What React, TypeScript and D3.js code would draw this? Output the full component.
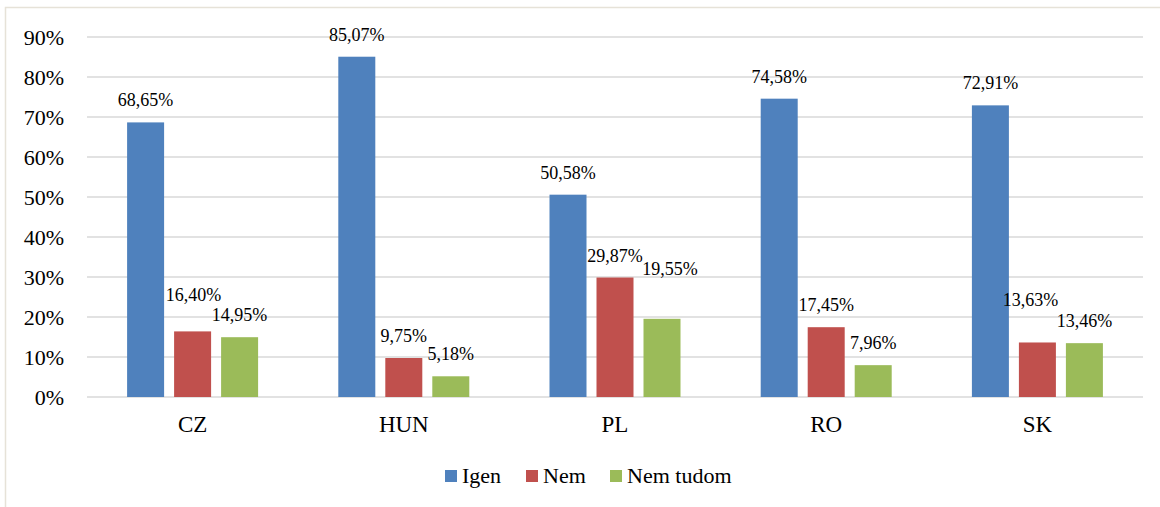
import React from "react";
import * as d3 from "d3";

const categories = ["CZ", "HUN", "PL", "RO", "SK"];
const seriesNames = ["Igen", "Nem", "Nem tudom"];
const igen = [68.65, 85.07, 50.58, 74.58, 72.91];
const nem = [16.4, 9.75, 29.87, 17.45, 13.63];
const nemTudom = [14.95, 5.18, 19.55, 7.96, 13.46];
const yTicks = [0, 10, 20, 30, 40, 50, 60, 70, 80, 90];
const colors = ["#4f81bd", "#c0504d", "#9bbb59"];
// manual label nudges (px) as in the source chart: [series][category]
const labelLift = [
  [0, 0, 0, 0, 0],
  [14, 0, 0, 0, 20],
  [0, 0, 28, 0, 0],
];
const labelShiftX = [
  [0, 0, 0, 0, 0],
  [1, 0, 0, 0, -7],
  [0, 0, 8, 0, 0],
];

const W = 1160;
const H = 507;
const font = "Tinos, 'Times New Roman', Times, 'Nimbus Roman', 'Nimbus Roman No9 L', 'DejaVu Serif', serif";

export default function App() {
  const series = [igen, nem, nemTudom];
  const left = 87;
  const right = 1143;
  const y = d3.scaleLinear().domain([0, 90]).range([397, 37]);
  const x0 = d3.scaleBand<string>().domain(categories).range([left, right]).paddingInner(0).paddingOuter(0);
  const barW = 37;
  const step = 47;
  const fmt = (v: number) => v.toFixed(2).replace(".", ",") + "%";
  const ts = { fontFamily: font };

  const legendItems = [
    { x: 445, tx: 462 },
    { x: 526, tx: 543 },
    { x: 610, tx: 627 },
  ];

  return (
    <svg
      width={W}
      height={H}
      style={{ position: "absolute", left: 0, top: 0, background: "#fff", fontFamily: font }}
    >
      <rect x={5.5} y={7.5} width={1170} height={510} fill="#fff" stroke="#e6e2d8" strokeWidth={1.5} />
      {yTicks.map((t) => (
        <g key={t}>
          <line x1={left} x2={right} y1={y(t)} y2={y(t)} stroke="#d9d9d9" strokeWidth={1.5} />
          <text x={64} y={y(t)} dy="0.35em" textAnchor="end" fontSize={22} fill="#000" style={ts}>
            {t}%
          </text>
        </g>
      ))}
      {categories.map((c, ci) => {
        const cx = (x0(c) as number) + x0.bandwidth() / 2;
        return (
          <g key={c}>
            {series.map((s, si) => {
              const bx = cx + (si - 1) * step - barW / 2;
              const v = s[ci];
              return (
                <g key={si}>
                  <rect x={bx} y={y(v)} width={barW} height={y(0) - y(v)} fill={colors[si]} />
                  <text
                    x={bx + barW / 2 + labelShiftX[si][ci]}
                    y={y(v) - 16 - labelLift[si][ci]}
                    textAnchor="middle"
                    fontSize={18}
                    fill="#000"
                    style={ts}
                  >
                    {fmt(v)}
                  </text>
                </g>
              );
            })}
            <text x={cx} y={432} textAnchor="middle" fontSize={23} fill="#000" style={ts}>
              {c}
            </text>
          </g>
        );
      })}
      {seriesNames.map((n, i) => (
        <g key={n}>
          <rect x={legendItems[i].x} y={470} width={12} height={12} fill={colors[i]} />
          <text x={legendItems[i].tx} y={483} fontSize={22} fill="#000" style={ts}>
            {n}
          </text>
        </g>
      ))}
    </svg>
  );
}
